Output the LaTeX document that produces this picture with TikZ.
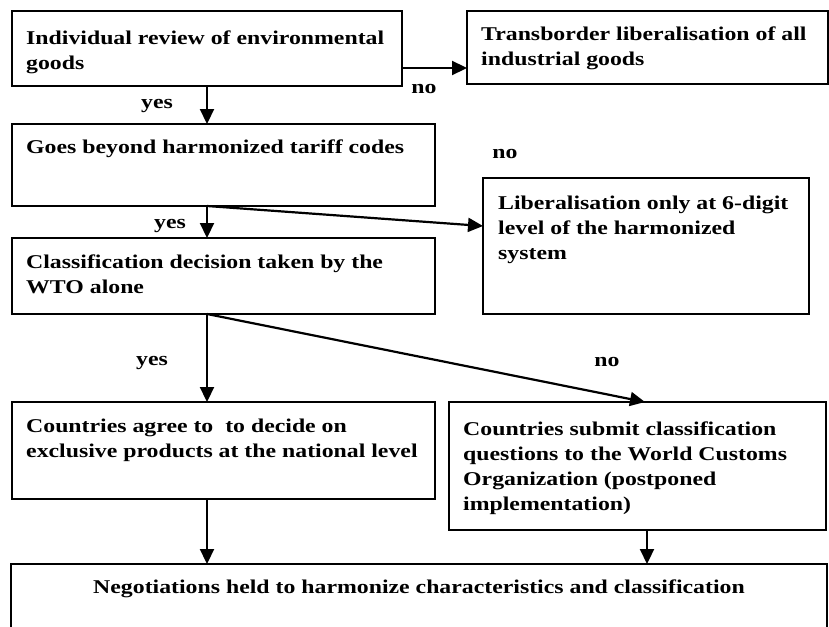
\documentclass[tikz,border=0pt]{standalone}
\usepackage{fontspec}
\setmainfont{Liberation Serif}[FakeStretch=1.22]
\usetikzlibrary{arrows.meta}
\begin{document}
\begin{tikzpicture}[x=1pt,y=-1pt,
  box/.style={draw, line width=1.6pt, anchor=north west, inner sep=0pt, outer sep=0pt},
  txt/.style={anchor=base west, inner sep=0pt, align=left, font=\fontsize{19.5}{25}\selectfont\bfseries},
  lbl/.style={anchor=base, inner sep=0pt, font=\fontsize{19.5}{25}\selectfont\bfseries},
  arr/.style={line width=2.2pt, -{Triangle[length=15pt,width=14pt]}}]
\clip (0,0) rectangle (829,626);
% boxes
\node[box, minimum width=390pt, minimum height=75pt] (b1) at (12,11) {};
\node[box, minimum width=361pt, minimum height=73pt] (b2) at (467,11) {};
\node[box, minimum width=423pt, minimum height=82pt] (b3) at (12,124) {};
\node[box, minimum width=326pt, minimum height=136pt] (b4) at (483,178) {};
\node[box, minimum width=423pt, minimum height=76pt] (b5) at (12,238) {};
\node[box, minimum width=423pt, minimum height=97pt] (b6) at (12,402) {};
\node[box, minimum width=377pt, minimum height=128pt] (b7) at (449,402) {};
\node[box, minimum width=816pt, minimum height=90pt] (b8) at (11,564) {};
% texts (anchored at the baseline of the last line)
\node[txt] (t1) at (26,70) {Individual review of environmental\\goods};
\node[txt] (t2) at (481,66) {Transborder liberalisation of all\\industrial goods};
\node[txt] (t3) at (26,153) {Goes beyond harmonized tariff codes};
\node[txt] (t4) at (498,259) {Liberalisation only at 6-digit\\level of the harmonized\\system};
\node[txt] (t5) at (26,293) {Classification decision taken by the\\WTO alone};
\node[txt] (t6) at (26,457) {Countries agree to\ \ to decide on\\exclusive products at the national level};
\node[txt] (t7) at (463,510) {Countries submit classification\\questions to the World Customs\\Organization (postponed\\implementation)};
\node[lbl] (t8) at (419,593) {Negotiations held to harmonize characteristics and classification};
% helper coordinates
\coordinate (ya) at (0,68);
\coordinate (yb) at (0,226);
\coordinate (xa) at (645,0);
\coordinate (xb) at (647,0);
% connectors
\draw[arr] (b1.east |- ya) -- (b2.west |- ya);
\draw[arr] (b1.south) -- (b3.north -| b1.south);
\draw[arr] (b3.south -| b1.south) -- (b5.north -| b1.south);
\draw[arr] (b3.south -| b1.south) -- (b4.west |- yb);
\draw[arr] (b5.south -| b1.south) -- (b6.north -| b1.south);
\draw[arr] (b5.south -| b1.south) -- (b7.north -| xa);
\draw[arr] (b6.south -| b1.south) -- (b8.north -| b1.south);
\draw[arr] (b7.south -| xb) -- (b8.north -| xb);
% labels
\node[lbl] (l1) at (424,93) {no};
\node[lbl] (l2) at (157,108) {yes};
\node[lbl] (l3) at (170,228) {yes};
\node[lbl] (l4) at (505,158) {no};
\node[lbl] (l5) at (152,365) {yes};
\node[lbl] (l6) at (607,366) {no};
\end{tikzpicture}
\end{document}
